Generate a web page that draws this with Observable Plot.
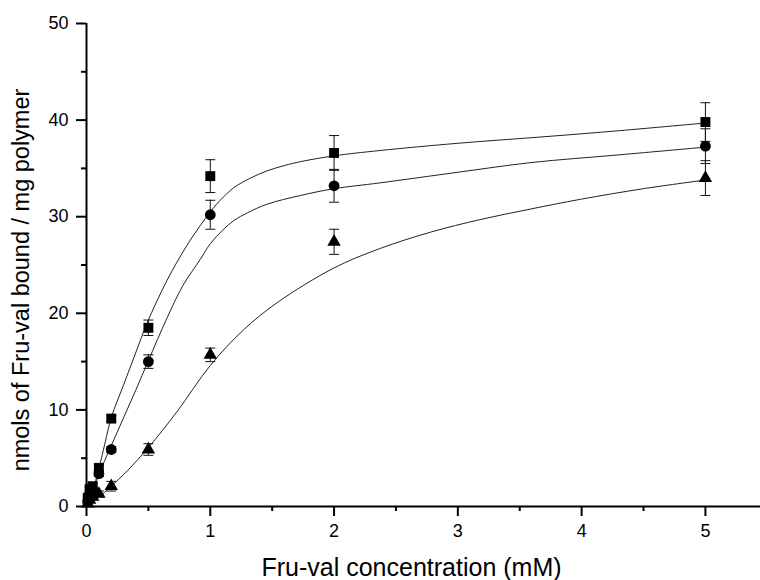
<!DOCTYPE html>
<html>
<head>
<meta charset="utf-8">
<script src="https://cdn.jsdelivr.net/npm/d3@7"></script>
<script src="https://cdn.jsdelivr.net/npm/@observablehq/plot@0.6"></script>
<style>
  html, body { margin: 0; padding: 0; background: #fff; }
  #chart svg { display: block; }
</style>
</head>
<body>
<div id="chart"></div>
<script>
// ---- data ----
const conc = [0.01, 0.025, 0.05, 0.1, 0.2, 0.5, 1, 2, 5];
const squareVals   = [0.9, 1.8, 2.1, 4.0, 9.1, 18.5, 34.2, 36.6, 39.8];
const squareErr    = [0.2, 0.2, 0.3, 0.4, 0.3, 0.8, 1.7, 1.8, 2.0];
const circleVals   = [0.5, 1.2, 1.7, 3.4, 5.9, 15.0, 30.2, 33.2, 37.3];
const circleErr    = [0.2, 0.2, 0.2, 0.3, 0.3, 0.7, 1.5, 1.7, 1.8];
const triangleVals = [0.3, 0.7, 1.0, 1.3, 2.1, 5.9, 15.7, 27.4, 34.0];
const triangleErr  = [0.2, 0.2, 0.2, 0.3, 0.5, 0.6, 0.7, 1.3, 1.8];

// fitted curves
const squareFitX = [0, 0.025, 0.05, 0.1, 0.15, 0.2, 0.3, 0.4, 0.49, 0.65, 0.81, 0.92, 1.0, 1.08, 1.19, 1.325, 1.46, 1.6, 1.73, 2.0, 2.37, 3.0, 3.72, 4.3, 5];
const squareFitY = [0, 0.6, 1.6, 3.9, 6.6, 9.2, 12.6, 16.0, 19.0, 23.4, 27.0, 29.1, 30.5, 31.7, 33.0, 34.0, 34.75, 35.3, 35.7, 36.3, 36.85, 37.6, 38.3, 38.9, 39.7];
const circleFitX = [0, 0.025, 0.05, 0.1, 0.2, 0.3, 0.4, 0.5, 0.65, 0.78, 0.92, 1.0, 1.1, 1.19, 1.3, 1.46, 1.73, 2.0, 2.37, 3.0, 3.59, 4.3, 5];
const circleFitY = [0, 0.5, 1.3, 3.3, 6.3, 9.2, 12.1, 15.1, 19.5, 22.9, 25.6, 27.2, 28.6, 29.6, 30.4, 31.3, 32.2, 32.9, 33.5, 34.6, 35.6, 36.4, 37.2];
const triangleFitX = [0, 0.05, 0.1, 0.2, 0.33, 0.5, 0.73, 1.0, 1.27, 1.54, 2.0, 2.37, 2.78, 3.18, 3.59, 3.99, 4.5, 5];
const triangleFitY = [0, 0.45, 0.95, 2.1, 3.7, 6.1, 9.8, 14.6, 18.3, 21.1, 24.7, 26.7, 28.4, 29.7, 30.8, 31.8, 32.9, 33.8];

const xTicks = [0, 1, 2, 3, 4, 5];
const xMinorTicks = [0.5, 1.5, 2.5, 3.5, 4.5];
const yTicks = [0, 10, 20, 30, 40, 50];
const yMinorTicks = [5, 15, 25, 35, 45];

const xTitle = "Fru-val concentration (mM)";
const yTitle = "nmols of Fru-val bound / mg polymer";

// ---- tables ----
const series = [
  {name: "square", vals: squareVals, err: squareErr, fx: squareFitX, fy: squareFitY},
  {name: "circle", vals: circleVals, err: circleErr, fx: circleFitX, fy: circleFitY},
  {name: "triangle", vals: triangleVals, err: triangleErr, fx: triangleFitX, fy: triangleFitY}
];
const points = series.flatMap(s => conc.map((c, i) => ({s: s.name, x: c, y: s.vals[i], e: s.err[i]})));
const fits = series.flatMap(s => s.fx.map((x, i) => ({s: s.name, x, y: s.fy[i]})));

const cap = {draw(ctx) { ctx.moveTo(-5, 0); ctx.lineTo(5, 0); }};

const chart = Plot.plot({
  width: 760,
  height: 580,
  marginLeft: 86,
  marginRight: 0,
  marginTop: 23,
  marginBottom: 74,
  style: {fontFamily: "'Liberation Sans', Arial, sans-serif", color: "#000", background: "#fff"},
  x: {domain: [0, 5.445]},
  y: {domain: [0, 50]},
  marks: [
    Plot.line(fits, {x: "x", y: "y", z: "s", curve: "catmull-rom", stroke: "#222", strokeWidth: 1}),
    Plot.ruleX(points, {x: "x", y1: d => d.y - d.e, y2: d => d.y + d.e, stroke: "#111", strokeWidth: 1}),
    Plot.dot(points, {x: "x", y: d => d.y + d.e, symbol: () => cap, r: 1, stroke: "#111", strokeWidth: 1, fill: "none"}),
    Plot.dot(points, {x: "x", y: d => d.y - d.e, symbol: () => cap, r: 1, stroke: "#111", strokeWidth: 1, fill: "none"}),
    Plot.dot(points.filter(d => d.s === "square"), {x: "x", y: "y", symbol: "square", r: 5.6, fill: "#000", stroke: "none"}),
    Plot.dot(points.filter(d => d.s === "circle"), {x: "x", y: "y", symbol: "circle", r: 5.4, fill: "#000", stroke: "none"}),
    Plot.dot(points.filter(d => d.s === "triangle"), {x: "x", y: "y", symbol: "triangle", r: 5.0, fill: "#000", stroke: "none"}),
    Plot.ruleX([0], {stroke: "#000", strokeWidth: 2}),
    Plot.ruleY([0], {stroke: "#000", strokeWidth: 2}),
    Plot.axisY({ticks: yTicks, tickSize: 10, tickPadding: 8, strokeWidth: 2, fontSize: 18, label: null, tickFormat: d => String(d)}),
    Plot.axisY({ticks: yMinorTicks, tickSize: 5, strokeWidth: 2, text: null, label: null}),
    Plot.axisX({ticks: xTicks, tickSize: 10, tickPadding: 8, strokeWidth: 2, fontSize: 18, label: null, tickFormat: d => String(d)}),
    Plot.axisX({ticks: xMinorTicks, tickSize: 5, strokeWidth: 2, text: null, label: null}),
    Plot.text([xTitle], {frameAnchor: "bottom", textAnchor: "middle", lineAnchor: "middle", dy: 61, dx: -12, fontSize: 25, fill: "#000"}),
    Plot.text([yTitle], {frameAnchor: "left", textAnchor: "middle", lineAnchor: "middle", dx: -65, dy: 15, rotate: -90, fontSize: 23.5, fill: "#000"})
  ]
});
document.getElementById("chart").appendChild(chart);
</script>
</body>
</html>
